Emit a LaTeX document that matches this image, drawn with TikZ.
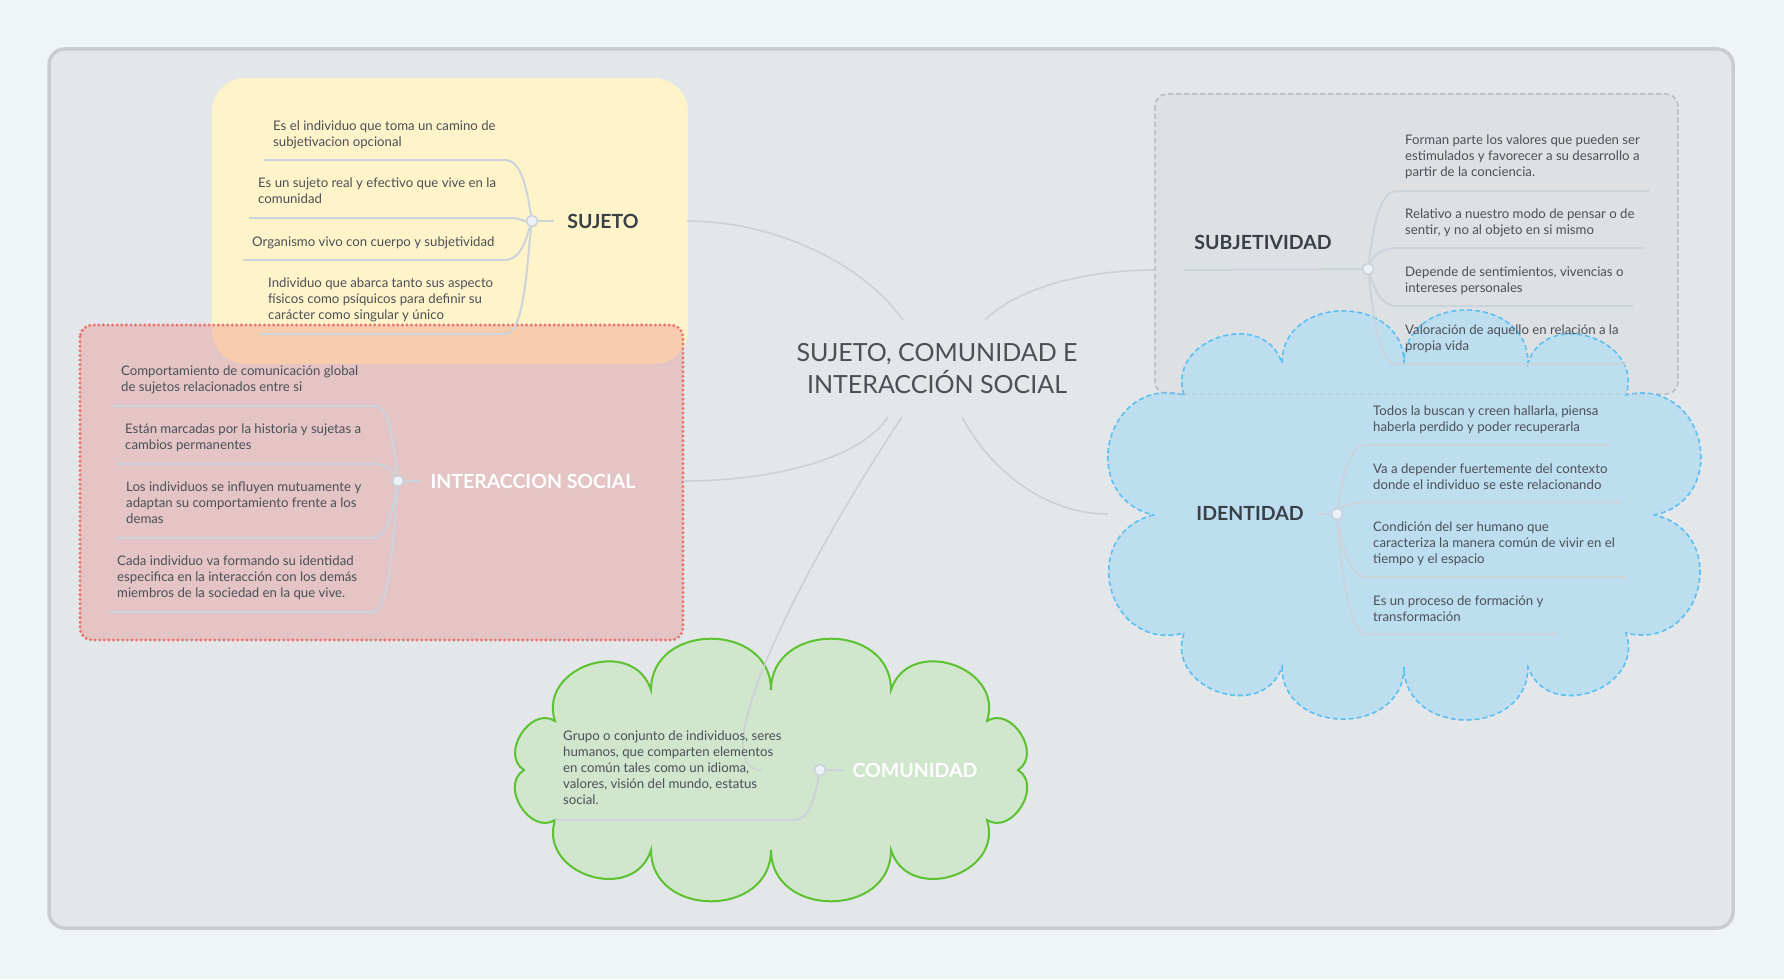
\documentclass[tikz,border=0pt]{standalone}
\usepackage{fontspec}
\setmainfont{Lato}
\usetikzlibrary{calc}
\definecolor{pagebg}{HTML}{EFF4F7}
\definecolor{framefill}{HTML}{E3E7EA}
\definecolor{frameline}{HTML}{C9CDD0}
\definecolor{yel}{HTML}{FFF4C9}
\definecolor{redd}{HTML}{E8766E}
\definecolor{graybox}{HTML}{BCC0C4}
\definecolor{bluefill}{HTML}{BDDEEF}
\definecolor{blueline}{HTML}{5BC0F3}
\definecolor{greenfill}{HTML}{D0E6CD}
\definecolor{greenline}{HTML}{5DC230}
\definecolor{conn}{HTML}{CDD1D5}
\definecolor{subl}{HTML}{CBD3DB}
\definecolor{dotfill}{HTML}{EEF2F6}
\definecolor{dotline}{HTML}{C9D2DC}
\definecolor{txt}{HTML}{4B5057}
\definecolor{labtxt}{HTML}{3A4047}
\newcommand\firstl{\rule{0pt}{12pt}}
\tikzset{
  cbump/.style={to path={.. controls ($(\tikztostart)!#1!90:(\tikztotarget)$) and ($(\tikztotarget)!#1!-90:(\tikztostart)$) .. (\tikztotarget)}},
  cbump/.default=0.57,
  item/.style={anchor=north west, align=left, inner sep=0pt, text=txt, font=\fontsize{13.2}{16}\selectfont},
  lab/.style={inner sep=0pt, text=labtxt, font=\fontsize{19.5}{22}\selectfont\bfseries},
  dotn/.style={circle, minimum size=11pt, inner sep=0pt, fill=dotfill, draw=dotline, line width=1.5pt},
  conline/.style={draw=conn, line width=1.6pt},
  subline/.style={draw=subl, line width=2pt},
  titlenode/.style={align=center, inner sep=0pt, text=txt, font=\fontsize{25}{32}\selectfont}
}
\begin{document}
\begin{tikzpicture}[x=1pt,y=-1pt]
\useasboundingbox (0,0) rectangle (1784,979);
\fill[pagebg] (0,0) rectangle (1784,979);
\draw[fill=framefill, draw=frameline, line width=3.5pt, rounded corners=16pt] (49,49) rectangle (1733,928);

% SUBJETIVIDAD box
\fill[black, fill opacity=0.025, rounded corners=12pt] (1155,94) rectangle (1678,394);
\draw[graybox, line width=1.5pt, dash pattern=on 5pt off 3pt, rounded corners=12pt] (1155,94) rectangle (1678,394);

% SUJETO box
\fill[yel, rounded corners=34pt] (212,78) rectangle (688,364);

% INTERACCION box
\fill[redd, fill opacity=0.3, rounded corners=12pt] (80,325) rectangle (683,640);
\draw[redd, line width=3.3pt, line cap=round, dash pattern=on 0pt off 4.6pt, rounded corners=12pt] (80,325) rectangle (683,640);

% IDENTIDAD cloud
\coordinate (iTL) at (1184,395);
\coordinate (iT1) at (1282,363);
\coordinate (iT2) at (1404,363);
\coordinate (iT3) at (1528,363);
\coordinate (iTR) at (1626,395);
\coordinate (iRC) at (1655,515);
\coordinate (iBR) at (1626,633);
\coordinate (iB3) at (1528,667);
\coordinate (iB2) at (1404,667);
\coordinate (iB1) at (1282,667);
\coordinate (iBL) at (1184,633);
\coordinate (iLC) at (1153,515);
\draw[fill=bluefill, draw=blueline, line width=1.6pt, dash pattern=on 5pt off 3pt]
  (iTL) to[cbump] (iT1) to[cbump] (iT2) to[cbump] (iT3) to[cbump] (iTR)
  to[cbump=0.65] (iRC) to[cbump=0.65] (iBR)
  to[cbump] (iB3) to[cbump] (iB2) to[cbump] (iB1) to[cbump] (iBL)
  to[cbump=0.65] (iLC) to[cbump=0.65] (iTL) -- cycle;
\draw[graybox, draw opacity=0.45, line width=1.5pt, dash pattern=on 5pt off 3pt, rounded corners=12pt] (1155,94) rectangle (1678,394);

% COMUNIDAD cloud
\coordinate (cTL) at (555,721);
\coordinate (cT1) at (651,690);
\coordinate (cT2) at (771,690);
\coordinate (cT3) at (891,690);
\coordinate (cTR) at (987,721);
\coordinate (cRC) at (1018,770);
\coordinate (cBR) at (987,820);
\coordinate (cB3) at (891,850);
\coordinate (cB2) at (771,850);
\coordinate (cB1) at (651,850);
\coordinate (cBL) at (555,820);
\coordinate (cLC) at (524,770);
\draw[fill=greenfill, draw=greenline, line width=2pt]
  (cTL) to[cbump] (cT1) to[cbump] (cT2) to[cbump] (cT3) to[cbump] (cTR)
  to[cbump=0.5] (cRC) to[cbump=0.5] (cBR)
  to[cbump] (cB3) to[cbump] (cB2) to[cbump] (cB1) to[cbump] (cBL)
  to[cbump=0.5] (cLC) to[cbump=0.5] (cTL) -- cycle;

% central topic
\node[titlenode] (root) at (937,369) {SUJETO, COMUNIDAD E\\INTERACCIÓN SOCIAL};
\coordinate (r1) at ($(root.center)+(-34,-49)$);
\coordinate (r2) at ($(root.center)+(48,-49)$);
\coordinate (r3) at ($(root.center)+(-49,48)$);
\coordinate (r4) at ($(root.center)+(-35,48)$);
\coordinate (r5) at ($(root.center)+(25,48)$);
\coordinate (sjin) at (687,221);
\coordinate (sbin) at (1155,270);
\coordinate (isin) at (683,481);
\coordinate (idin) at (1108,514);
\coordinate (cmin) at (762,770);
\draw[conline] (r1) .. controls (860,260) and (770,221) .. (sjin);
\draw[conline] (r2) .. controls (1015,290) and (1080,270) .. (sbin);
\draw[conline] (r3) .. controls (860,460) and (770,481) .. (isin);
\draw[conline] (r5) .. controls (990,470) and (1045,514) .. (idin);
\draw[conline] (r4) .. controls (800,570) and (700,770) .. (cmin);

% ---------- SUJETO ----------
\node[dotn] (sjc) at (532,221) {};
\node[lab] (sjl) at (603,221) {SUJETO};
\coordinate (s1l) at (264,160); \coordinate (s1r) at (505,160);
\coordinate (s2l) at (249,218); \coordinate (s2r) at (510,218);
\coordinate (s3l) at (243,260); \coordinate (s3r) at (505,260);
\coordinate (s4l) at (259,334); \coordinate (s4r) at (505,334);
\coordinate (sjlab) at (554,221);
\draw[subline] (s1l) -- (s1r) .. controls +(17,0) and +(-5,-30) .. (sjc);
\draw[subline] (s2l) -- (s2r) .. controls +(10,0) and +(-10,0) .. (sjc);
\draw[subline] (s3l) -- (s3r) .. controls +(17,0) and +(-5,14) .. (sjc);
\draw[subline] (s4l) -- (s4r) .. controls +(20,0) and +(-5,39) .. (sjc);
\draw[subline] (sjc) -- (sjlab);
\node[item] (s1) at (273,118) {\firstl Es el individuo que toma un camino de\\subjetivacion opcional};
\node[item] (s2) at (258,175) {\firstl Es un sujeto real y efectivo que vive en la\\comunidad};
\node[item] (s3) at (252,234) {\firstl Organismo vivo con cuerpo y subjetividad};
\node[item] (s4) at (268,275) {\firstl Individuo que abarca tanto sus aspecto\\físicos como psíquicos para definir su\\carácter como singular y único};

% ---------- INTERACCION SOCIAL ----------
\node[dotn] (ic) at (398,481) {};
\node[lab, text=white] (isl) at (533,481) {INTERACCION SOCIAL};
\coordinate (i1l) at (113,406); \coordinate (i1r) at (374,406);
\coordinate (i2l) at (117,464); \coordinate (i2r) at (374,464);
\coordinate (i3l) at (117,538); \coordinate (i3r) at (372,538);
\coordinate (i4l) at (110,612); \coordinate (i4r) at (372,612);
\coordinate (islab) at (420,481);
\draw[subline] (i1l) -- (i1r) .. controls +(16,0) and +(-5,-40) .. (ic);
\draw[subline] (i2l) -- (i2r) .. controls +(14,0) and +(-6,-10) .. (ic);
\draw[subline] (i3l) -- (i3r) .. controls +(16,0) and +(-5,25) .. (ic);
\draw[subline] (i4l) -- (i4r) .. controls +(18,0) and +(-5,60) .. (ic);
\draw[subline] (ic) -- (islab);
\node[item] (i1) at (121,363) {\firstl Comportamiento de comunicación global\\de sujetos relacionados entre si};
\node[item] (i2) at (125,421) {\firstl Están marcadas por la historia y sujetas a\\cambios permanentes};
\node[item] (i3) at (126,479) {\firstl Los individuos se influyen mutuamente y\\adaptan su comportamiento frente a los\\demas};
\node[item] (i4) at (117,553) {\firstl Cada individuo va formando su identidad\\especifica en la interacción con los demás\\miembros de la sociedad en la que vive.};

% ---------- SUBJETIVIDAD ----------
\node[dotn] (bc) at (1368,269) {};
\node[lab] (sbl) at (1263,242) {SUBJETIVIDAD};
\coordinate (sblab) at (1184,270);
\coordinate (b1l) at (1397,191); \coordinate (b1r) at (1649,191);
\coordinate (b2l) at (1397,248); \coordinate (b2r) at (1644,248);
\coordinate (b3l) at (1397,306); \coordinate (b3r) at (1633,306);
\coordinate (b4l) at (1397,364); \coordinate (b4r) at (1626,364);
\draw[subline] (sblab) -- (bc);
\draw[subline] (bc) .. controls +(5,-40) and +(-18,0) .. (b1l) -- (b1r);
\draw[subline] (bc) .. controls +(4,-12) and +(-16,0) .. (b2l) -- (b2r);
\draw[subline] (bc) .. controls +(5,15) and +(-18,0) .. (b3l) -- (b3r);
\draw[subline] (bc) .. controls +(5,45) and +(-18,0) .. (b4l) -- (b4r);
\node[item] (b1) at (1405,132) {\firstl Forman parte los valores que pueden ser\\estimulados y favorecer a su desarrollo a\\partir de la conciencia.};
\node[item] (b2) at (1405,206) {\firstl Relativo a nuestro modo de pensar o de\\sentir, y no al objeto en si mismo};
\node[item] (b3) at (1405,264) {\firstl Depende de sentimientos, vivencias o\\intereses personales};
\node[item] (b4) at (1405,322) {\firstl Valoración de aquello en relación a la\\propia vida};

% ---------- IDENTIDAD ----------
\node[dotn] (dc) at (1337,514) {};
\node[lab] (idl) at (1250,513) {IDENTIDAD};
\coordinate (idlab) at (1315,514);
\coordinate (d1l) at (1366,445); \coordinate (d1r) at (1610,445);
\coordinate (d2l) at (1366,502); \coordinate (d2r) at (1621,502);
\coordinate (d3l) at (1366,577); \coordinate (d3r) at (1627,577);
\coordinate (d4l) at (1366,634); \coordinate (d4r) at (1557,634);
\draw[subline] (idlab) -- (dc);
\draw[subline] (dc) .. controls +(4,-35) and +(-16,0) .. (d1l) -- (d1r);
\draw[subline] (dc) .. controls +(4,-6) and +(-16,0) .. (d2l) -- (d2r);
\draw[subline] (dc) .. controls +(4,30) and +(-16,0) .. (d3l) -- (d3r);
\draw[subline] (dc) .. controls +(4,60) and +(-16,0) .. (d4l) -- (d4r);
\node[item] (d1) at (1373,403) {\firstl Todos la buscan y creen hallarla, piensa\\haberla perdido y poder recuperarla};
\node[item] (d2) at (1373,461) {\firstl Va a depender fuertemente del contexto\\donde el individuo se este relacionando};
\node[item] (d3) at (1373,519) {\firstl Condición del ser humano que\\caracteriza la manera común de vivir en el\\tiempo y el espacio};
\node[item] (d4) at (1373,593) {\firstl Es un proceso de formación y\\transformación};

% ---------- COMUNIDAD ----------
\node[dotn] (cc) at (820,770) {};
\node[lab, text=white] (cml) at (915,770) {COMUNIDAD};
\coordinate (cmlab) at (843,770);
\coordinate (c1l) at (555,820); \coordinate (c1r) at (793,820);
\draw[subline] (c1l) -- (c1r) .. controls +(18,0) and +(-5,25) .. (cc);
\draw[subline] (cc) -- (cmlab);
\node[item] (c1) at (563,728) {\firstl Grupo o conjunto de individuos, seres\\humanos, que comparten elementos\\en común tales como un idioma,\\valores, visión del mundo, estatus\\social.};
\end{tikzpicture}
\end{document}
